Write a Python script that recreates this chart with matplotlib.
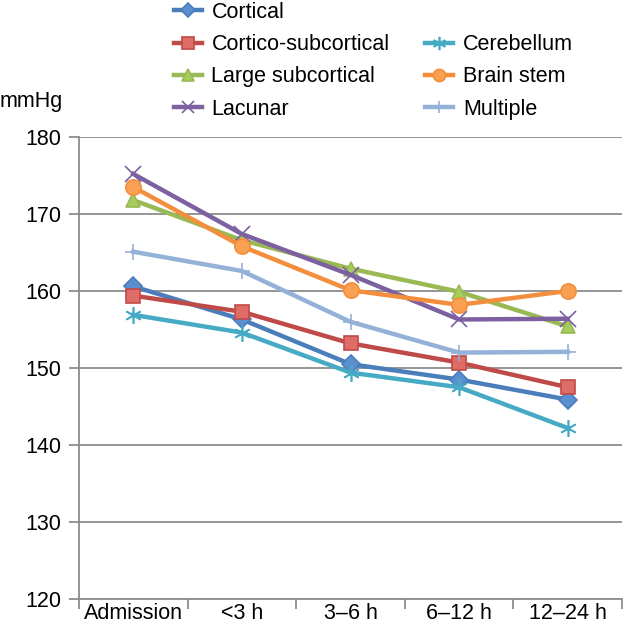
import matplotlib

matplotlib.use("Agg")
import matplotlib.pyplot as plt
from matplotlib.lines import Line2D

plt.rcParams["font.family"] = ["Liberation Sans", "DejaVu Sans"]

# time points after admission
categories = ["Admission", "<3 h", "3\u20136 h", "6\u201312 h", "12\u201324 h"]

# systolic blood pressure (mmHg) by stroke location
cortical = [160.6, 156.3, 150.5, 148.5, 145.9]
cortico_subcortical = [159.4, 157.3, 153.2, 150.7, 147.5]
large_subcortical = [171.8, 166.6, 162.9, 159.9, 155.4]
lacunar = [175.2, 167.4, 162.1, 156.3, 156.4]
cerebellum = [156.9, 154.6, 149.4, 147.5, 142.2]
brain_stem = [173.5, 165.8, 160.1, 158.2, 160.0]
multiple = [165.1, 162.6, 156.0, 152.0, 152.1]

yticks = [120, 130, 140, 150, 160, 170, 180]

series = [
    ("Cortical", cortical, "#4A7EBB", "D", "#5B8FD0", 9),
    ("Cortico-subcortical", cortico_subcortical, "#BE4B48", "s", "#E06C68", 10),
    ("Large subcortical", large_subcortical, "#98B954", "^", "#A6CC5E", 10),
    ("Lacunar", lacunar, "#7D60A0", "x", "#7D60A0", 11),
    ("Cerebellum", cerebellum, "#46AAC5", (6, 2, 0), "#46AAC5", 12),
    ("Brain stem", brain_stem, "#F38F3C", "o", "#F9A052", 11),
    ("Multiple", multiple, "#94B1D8", "+", "#94B1D8", 11),
]

fs = 15.5

fig = plt.figure(figsize=(6.24, 6.30), dpi=100)
ax = fig.add_axes([79 / 624, 1 - 599 / 630, 543 / 624, 462 / 630])

x = list(range(len(categories)))
handles = {}
for name, values, color, marker, face, msize in series:
    (line,) = ax.plot(
        x, values, color=color, linewidth=3.2, marker=marker, markersize=msize,
        markerfacecolor=face, markeredgecolor=color, markeredgewidth=1.2,
        label=name, zorder=3,
    )
    handles[name] = line

ax.set_xlim(-0.5, len(categories) - 0.5)
ax.set_ylim(yticks[0], yticks[-1])
ax.set_yticks(yticks)
ax.yaxis.grid(True, color="#8C8C8C", linewidth=1.3)
ax.set_axisbelow(True)

# boundary ticks between categories, labels centred on categories
ax.set_xticks([i - 0.5 for i in range(len(categories) + 1)])
ax.set_xticklabels([])
ax.set_xticks(x, minor=True)
ax.set_xticklabels(categories, minor=True)
ax.tick_params(axis="x", which="major", length=7, width=1.3, color="#8C8C8C")
ax.tick_params(axis="x", which="minor", length=0, pad=3, labelsize=fs)
ax.tick_params(axis="y", length=7, width=1.3, color="#8C8C8C", pad=6, labelsize=fs)

for side in ("top", "right"):
    ax.spines[side].set_visible(False)
for side in ("left", "bottom"):
    ax.spines[side].set_color("#8C8C8C")
    ax.spines[side].set_linewidth(1.3)

fig.text(0.0, 1 - 102 / 630, "mmHg", fontsize=fs, ha="left", va="center")

blank = Line2D([], [], linestyle="none", marker="")
order = ["Cortical", "Cortico-subcortical", "Large subcortical", "Lacunar"]
order2 = ["Cerebellum", "Brain stem", "Multiple"]
leg_handles = [handles[n] for n in order] + [blank] + [handles[n] for n in order2]
leg_labels = order + [""] + order2
fig.legend(
    leg_handles, leg_labels, ncol=2, loc="upper left",
    bbox_to_anchor=(163 / 624, 1.014), frameon=False, fontsize=fs,
    handlelength=1.3, handletextpad=0.45, columnspacing=1.65,
    labelspacing=0.52, borderpad=0, markerscale=0.8,
)

fig.savefig("out.png", dpi=100)
